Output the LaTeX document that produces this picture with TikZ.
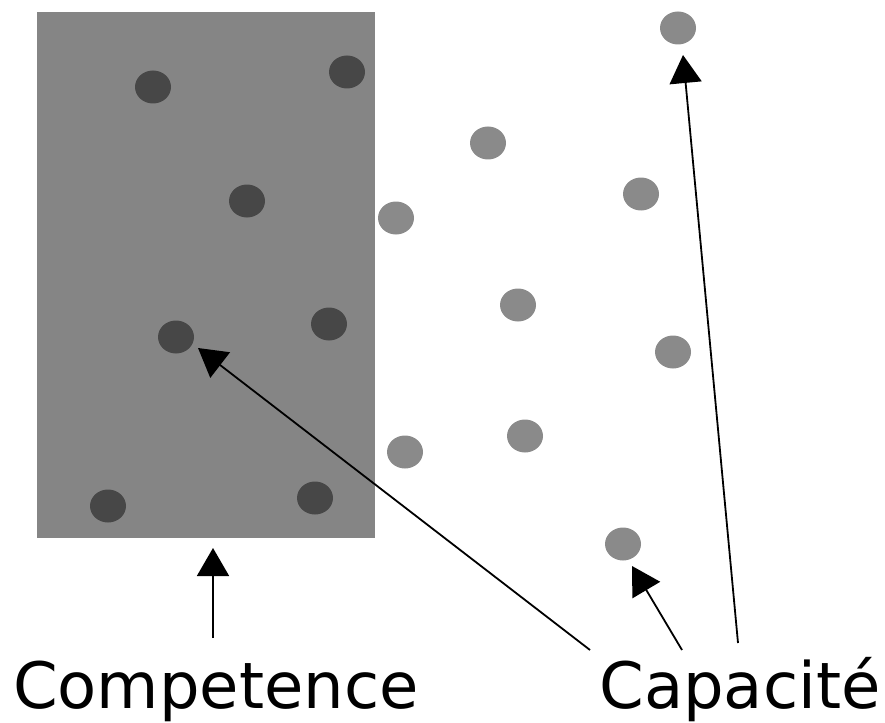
\documentclass[tikz,border=0pt]{standalone}
\usepackage{fontspec}
\setmainfont{DejaVu Sans}
\usetikzlibrary{arrows.meta,shapes.geometric}
\definecolor{boxgray}{HTML}{858585}
\definecolor{darkdot}{HTML}{474747}
\definecolor{lightdot}{HTML}{8A8A8A}
\begin{document}
\begin{tikzpicture}[x=1pt,y=-1pt,
  darkd/.style={ellipse,fill=darkdot,minimum width=36pt,minimum height=33pt,inner sep=0pt},
  lightd/.style={ellipse,fill=lightdot,minimum width=36pt,minimum height=33pt,inner sep=0pt},
  arr/.style={line width=1.8pt,-{Triangle[length=28pt,width=32pt]}},
  lbl/.style={font=\fontsize{64}{66}\selectfont,inner sep=0pt}]
\useasboundingbox (0,0) rectangle (885,722);
\fill[boxgray] (37,12) rectangle (375,538);
\node[darkd] (d1) at (153,87) {};
\node[darkd] (d2) at (347,72) {};
\node[darkd] (d3) at (247,201) {};
\node[darkd] (d4) at (176,337) {};
\node[darkd] (d5) at (329,324) {};
\node[darkd] (d6) at (108,506) {};
\node[darkd] (d7) at (315,498) {};
\node[lightd] (l1) at (678,28) {};
\node[lightd] (l2) at (488,143) {};
\node[lightd] (l3) at (641,194) {};
\node[lightd] (l4) at (396,218) {};
\node[lightd] (l5) at (518,305) {};
\node[lightd] (l6) at (673,352) {};
\node[lightd] (l7) at (405,452) {};
\node[lightd] (l8) at (525,436) {};
\node[lightd] (l9) at (623,544) {};
\node[lbl,anchor=base] (comp) at (216,708) {Competence};
\node[lbl,anchor=base] (capa) at (740,708) {Capacité};
\coordinate (s1) at (213,638);
\coordinate (t1) at (213,548);
\coordinate (s2) at (590,650);
\coordinate (t2) at (198,348);
\coordinate (s3) at (682,650);
\coordinate (t3) at (632,566);
\coordinate (s4) at (738,643);
\coordinate (t4) at (683,55);
\draw[arr] (s1) -- (t1);
\draw[arr] (s2) -- (t2);
\draw[arr] (s3) -- (t3);
\draw[arr] (s4) -- (t4);
\end{tikzpicture}
\end{document}
